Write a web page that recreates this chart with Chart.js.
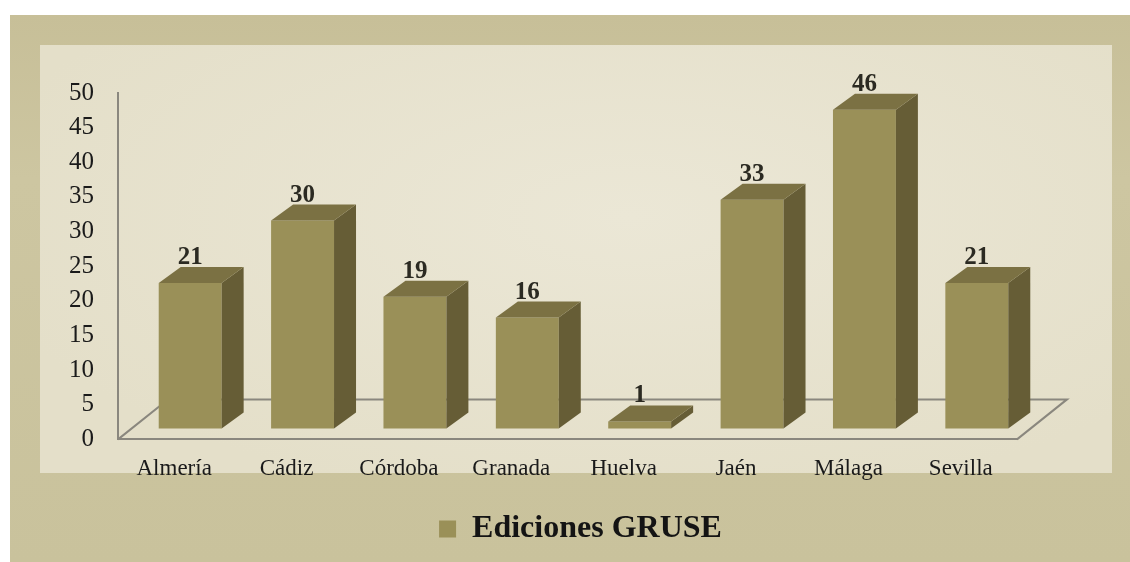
<!DOCTYPE html>
<html>
<head>
<meta charset="utf-8">
<script src="https://cdn.jsdelivr.net/npm/chart.js@4/dist/chart.umd.min.js"></script>
<style>
  body { margin: 0; background: #ffffff; width: 1130px; height: 562px; overflow: hidden; position: relative; }
  #marco { position: absolute; left: 10px; top: 15px; width: 1120px; height: 547px;
           background: linear-gradient(#c7bf98, #cdc6a1 30%, #c9c29c); }
  #panel { position: absolute; left: 40px; top: 45px; width: 1072px; height: 428px;
           background: radial-gradient(ellipse at 55% 40%, #ebe7d6, #e4dfc9 80%); }
  #grafico { position: absolute; left: 0; top: 0; }
</style>
</head>
<body>
<div id="marco"></div>
<div id="panel"></div>
<canvas id="grafico" width="1130" height="562"></canvas>
<script>
// datos
const categorias = ["Almería", "Cádiz", "Córdoba", "Granada", "Huelva", "Jaén", "Málaga", "Sevilla"];
const ediciones = [21, 30, 19, 16, 1, 33, 46, 21];
const nombreSerie = "Ediciones GRUSE";
const ticksY = [0, 5, 10, 15, 20, 25, 30, 35, 40, 45, 50];

const fuente = "'Liberation Serif', 'Times New Roman', serif";
const frente = "#9a9058", lado = "#665d36", tapa = "#7b7143";
const ejeColor = "#8a877e";

// profundidad del suelo y de las barras (efecto 3D)
const suelo = {dx: 50, dy: -40};
const desplaza = {dx: 16, dy: -11};
const fondo = {dx: 22, dy: -16};

const efecto3D = {
    id: "efecto3D",
    afterLayout(chart) {
        // la leyenda del original no esta centrada en el lienzo
        chart.legend.left += 72;
        chart.legend.right += 72;
    },
    beforeDatasetsDraw(chart) {
        const ctx = chart.ctx, x = chart.scales.x, y = chart.scales.y;
        const y0 = y.getPixelForValue(0);
        ctx.save();
        ctx.strokeStyle = ejeColor;
        ctx.lineWidth = 2;
        ctx.beginPath();
        ctx.moveTo(x.left, y0);
        ctx.lineTo(x.left + suelo.dx, y0 + suelo.dy);
        ctx.lineTo(x.right + suelo.dx, y0 + suelo.dy);
        ctx.lineTo(x.right, y0);
        ctx.stroke();
        ctx.restore();
    },
    beforeDatasetDraw(chart) {
        chart.ctx.save();
        chart.ctx.translate(desplaza.dx, desplaza.dy);
    },
    afterDatasetDraw(chart, args) {
        const ctx = chart.ctx;
        ctx.restore();
        const meta = args.meta;
        meta.data.forEach((bar, i) => {
            const p = bar.getProps(["x", "y", "base", "width"], true);
            const xl = p.x - p.width / 2 + desplaza.dx;
            const xr = p.x + p.width / 2 + desplaza.dx;
            const yt = p.y + desplaza.dy;
            const yb = p.base + desplaza.dy;
            ctx.save();
            // lado
            ctx.fillStyle = lado;
            ctx.beginPath();
            ctx.moveTo(xr, yt);
            ctx.lineTo(xr + fondo.dx, yt + fondo.dy);
            ctx.lineTo(xr + fondo.dx, yb + fondo.dy);
            ctx.lineTo(xr, yb);
            ctx.closePath();
            ctx.fill();
            // tapa
            ctx.fillStyle = tapa;
            ctx.beginPath();
            ctx.moveTo(xl, yt);
            ctx.lineTo(xl + fondo.dx, yt + fondo.dy);
            ctx.lineTo(xr + fondo.dx, yt + fondo.dy);
            ctx.lineTo(xr, yt);
            ctx.closePath();
            ctx.fill();
            // etiqueta
            ctx.fillStyle = "#2b2a22";
            ctx.font = "bold 25px " + fuente;
            ctx.textAlign = "center";
            ctx.textBaseline = "alphabetic";
            ctx.fillText(String(ediciones[i]), p.x + desplaza.dx, yt + fondo.dy - 3);
            ctx.restore();
        });
    }
};

new Chart(document.getElementById("grafico"), {
    type: "bar",
    data: {
        labels: categorias,
        datasets: [{
            label: nombreSerie,
            data: ediciones,
            backgroundColor: frente,
            borderWidth: 0,
            barPercentage: 0.56,
            categoryPercentage: 1,
            clip: false
        }]
    },
    options: {
        responsive: false,
        animation: false,
        layout: { padding: { left: 0, top: 93, right: 113, bottom: 7 } },
        plugins: {
            tooltip: { enabled: false },
            legend: {
                position: "bottom",
                labels: {
                    boxWidth: 17,
                    boxHeight: 17,
                    color: "#141414",
                    padding: 10,
                    font: { family: fuente, size: 32, weight: "bold" }
                }
            }
        },
        scales: {
            y: {
                min: 0,
                max: 50,
                afterFit: s => { s.width = 118; },
                afterBuildTicks: s => { s.ticks = ticksY.map(v => ({value: v})); },
                grid: { display: false, drawTicks: false },
                border: { display: true, color: ejeColor, width: 2 },
                ticks: { padding: 24, color: "#1a1a1a", font: { family: fuente, size: 25 } }
            },
            x: {
                afterFit: s => { s.height += 4; },
                grid: { display: false, drawTicks: false },
                border: { display: true, color: ejeColor, width: 2 },
                ticks: { padding: 16, color: "#1a1a1a", maxRotation: 0, font: { family: fuente, size: 23 } }
            }
        }
    },
    plugins: [efecto3D]
});
</script>
</body>
</html>
